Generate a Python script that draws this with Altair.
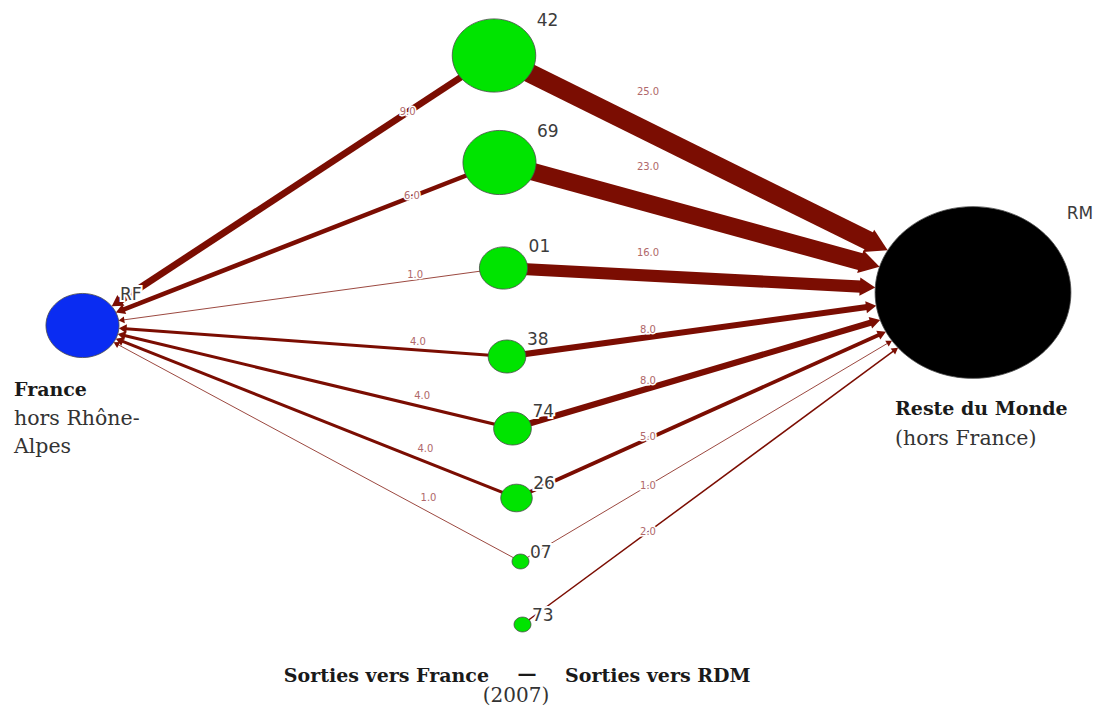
import math
import altair as alt
import pandas as pd

# ---------------- data ----------------
departements = ["42", "69", "01", "38", "74", "26", "07", "73"]
sorties_france = [9.0, 6.0, 1.0, 4.0, 4.0, 4.0, 1.0, 0.0]   # flows towards RF
sorties_rdm = [25.0, 23.0, 16.0, 8.0, 8.0, 5.0, 1.0, 2.0]    # flows towards RM
poles = ["RF", "RM"]

# ---------------- layout (node centres, in page pixels) ----------------
dept_x = [494, 499.5, 503.5, 507, 512.5, 516.5, 520.5, 522.5]
dept_y = [55.5, 162.5, 268, 356.5, 428.5, 498, 561.5, 624.5]
pole_x = [82.5, 973]
pole_y = [325.5, 292.5]

# style constants
EDGE_COL = "#7b0d02"
LAB_COL = "#b0686a"
R_K, R_OFF, ASPECT = 1.04, 6.15, 1.14      # node radius = R_K*(total+R_OFF)
SW_MAX = 19.0                               # stroke width for weight 25
ARR_K, ARR_OFF = 0.76, 7.9                  # arrow width = ARR_K*(w+ARR_OFF)
ARR_LEN = 0.85
PAGE_RIGHT = 1094

ELLIPSE = ("M-1,0C-1,-0.484,-0.552,-0.877,0,-0.877C0.552,-0.877,1,-0.484,1,0"
           "C1,0.484,0.552,0.877,0,0.877C-0.552,0.877,-1,0.484,-1,0Z")
ARROW = "M0,0L1,1.7L-1,1.7Z"

# ---------------- derived tables ----------------
totals = [f + r for f, r in zip(sorties_france, sorties_rdm)]
pole_tot = [sum(sorties_france), sum(sorties_rdm)]


def rads(v):
    rx = R_K * (v + R_OFF)
    return rx, rx / ASPECT


nodes = []
for code, x, y, v in zip(departements, dept_x, dept_y, totals):
    nodes.append(dict(code=code, x=x, y=y, total=v, kind="dept"))
for code, x, y, v in zip(poles, pole_x, pole_y, pole_tot):
    nodes.append(dict(code=code, x=x, y=y, total=v, kind=code))
for n in nodes:
    rx, ry = rads(n["total"])
    n["rx"], n["ry"] = rx, ry
    # keep label inside the page (approx. label width 0.8 em * chars)
    n["lx"] = min(n["x"] + rx + 1, PAGE_RIGHT - 0.8 * 17 * len(n["code"]))
    n["ly"] = n["y"] - 0.9 * ry + 3.5
nodes_df = pd.DataFrame(nodes)

pole_geo = {}
for code, x, y, v in zip(poles, pole_x, pole_y, pole_tot):
    pole_geo[code] = (x, y) + rads(v)

edges = []
for i, code in enumerate(departements):
    sx, sy = dept_x[i], dept_y[i]
    for tgt, w in (("RF", sorties_france[i]), ("RM", sorties_rdm[i])):
        if w <= 0:
            continue
        tx, ty, trx, try_ = pole_geo[tgt]
        ux, uy = sx - tx, sy - ty
        t = 1.0 / math.sqrt((ux / trx) ** 2 + (uy / try_) ** 2)
        tipx, tipy = tx + t * ux, ty + t * uy
        d = math.hypot(ux, uy)
        dx, dy = -ux / d, -uy / d
        aw = ARR_K * (w + ARR_OFF)
        back = ARR_LEN * aw - 1
        ex, ey = tipx - dx * back, tipy - dy * back
        ang = math.degrees(math.atan2(dx, -dy)) % 360
        if tgt == "RF":
            fx = 0.21
            lx = sx + fx * (tx - sx)
            ly = sy + fx * (ty - sy)
            slope = (sy - ty) / (sx - tx)
            ly -= min(14, max(0, 7 + 15 * slope))
        else:
            lx = 648
            ly = sy + (lx - sx) * (ty - sy) / (tx - sx)
            ly -= max(0, 1.9 * (w - 4))
        edges.append(dict(src=code, tgt=tgt, w=w, sx=sx, sy=sy, ex=ex, ey=ey,
                          tipx=tipx, tipy=tipy, ang=ang, aw=w + ARR_OFF,
                          lx=lx, ly=ly, lab=f"{w:.1f}"))
edges_df = pd.DataFrame(edges)

# ---------------- scales ----------------
W_PX, H_PX = 1087, 699
xs = alt.Scale(domain=[8, 8 + W_PX], nice=False, zero=False)
ys = alt.Scale(domain=[8, 8 + H_PX], nice=False, zero=False, reverse=True)


def X(f):
    return alt.X(f, type="quantitative", scale=xs, axis=None)


def Y(f):
    return alt.Y(f, type="quantitative", scale=ys, axis=None)


# ---------------- layers ----------------
rules = alt.Chart(edges_df).mark_rule(color=EDGE_COL, strokeCap="butt").encode(
    x=X("sx"), y=Y("sy"), x2=alt.X2("ex"), y2=alt.Y2("ey"),
    strokeWidth=alt.StrokeWidth("w:Q", scale=alt.Scale(domain=[0, 25], range=[0, SW_MAX]),
                                legend=None),
)

node_max = max(pole_tot) + R_OFF
node_marks = alt.Chart(nodes_df).transform_calculate(
    sv=f"datum.total + {R_OFF}"
).mark_point(shape=ELLIPSE, filled=True, opacity=1, stroke="#4a4a4a",
             strokeWidth=0.8).encode(
    x=X("x"), y=Y("y"),
    size=alt.Size("sv:Q", scale=alt.Scale(type="pow", exponent=2, domain=[0, node_max],
                                          range=[0, 4 * (R_K * node_max) ** 2]),
                  legend=None),
    color=alt.Color("kind:N", scale=alt.Scale(domain=["dept", "RF", "RM"],
                                              range=["#00e400", "#0a2cf2", "#000000"]),
                    legend=None),
)

arr_max = 25 + ARR_OFF
arrows = alt.Chart(edges_df).mark_point(shape=ARROW, filled=True, opacity=1,
                                        color=EDGE_COL).encode(
    x=X("tipx"), y=Y("tipy"),
    angle=alt.Angle("ang:Q", scale=None),
    size=alt.Size("aw:Q", scale=alt.Scale(type="pow", exponent=2, domain=[0, arr_max],
                                          range=[0, (ARR_K * arr_max) ** 2]),
                  legend=None),
)

halo = alt.Chart(edges_df).mark_text(font="DejaVu Sans", fontSize=10, color="white",
                                     stroke="white", strokeWidth=3,
                                     baseline="middle", align="center").encode(
    x=X("lx"), y=Y("ly"), text="lab:N")
edge_labels = alt.Chart(edges_df).mark_text(font="DejaVu Sans", fontSize=10, color=LAB_COL,
                                            baseline="middle", align="center").encode(
    x=X("lx"), y=Y("ly"), text="lab:N")

node_halo = alt.Chart(nodes_df).mark_text(font="DejaVu Sans", fontSize=17,
                                          color="white", stroke="white", strokeWidth=4,
                                          align="left", baseline="alphabetic").encode(
    x=X("lx"), y=Y("ly"), text="code:N")
node_labels = alt.Chart(nodes_df).mark_text(font="DejaVu Sans", fontSize=17,
                                            color="#3c3c3c", align="left",
                                            baseline="alphabetic").encode(
    x=X("lx"), y=Y("ly"), text="code:N")

# annotations
ann_bold = pd.DataFrame({
    "t": ["France", "Reste du Monde"],
    "x": [14, 895], "y": [396, 415],
})
ann_reg = pd.DataFrame({
    "t": ["hors Rhône-", "Alpes", "(hors France)"],
    "x": [14, 14, 895], "y": [425, 453, 445],
})
bottom_l = pd.DataFrame({"t": ["Sorties vers France"], "x": [489], "y": [682]})
bottom_c = pd.DataFrame({"t": ["—"], "x": [527], "y": [680]})
bottom_r = pd.DataFrame({"t": ["Sorties vers RDM"], "x": [565], "y": [682]})
year = pd.DataFrame({"t": ["(2007)"], "x": [516], "y": [702]})

SERIF = "DejaVu Serif"
t_bold = alt.Chart(ann_bold).mark_text(font=SERIF, fontSize=19, fontWeight="bold",
                                       color="#1a1a1a", align="left",
                                       baseline="alphabetic").encode(
    x=X("x"), y=Y("y"), text="t:N")
t_reg = alt.Chart(ann_reg).mark_text(font=SERIF, fontSize=20.5, color="#333333",
                                     align="left", baseline="alphabetic").encode(
    x=X("x"), y=Y("y"), text="t:N")
t_bl = alt.Chart(bottom_l).mark_text(font=SERIF, fontSize=19, fontWeight="bold",
                                     color="#1a1a1a", align="right",
                                     baseline="alphabetic").encode(
    x=X("x"), y=Y("y"), text="t:N")
t_bc = alt.Chart(bottom_c).mark_text(font=SERIF, fontSize=19, fontWeight="bold",
                                     color="#1a1a1a", align="center",
                                     baseline="alphabetic").encode(
    x=X("x"), y=Y("y"), text="t:N")
t_br = alt.Chart(bottom_r).mark_text(font=SERIF, fontSize=19, fontWeight="bold",
                                     color="#1a1a1a", align="left",
                                     baseline="alphabetic").encode(
    x=X("x"), y=Y("y"), text="t:N")
t_year = alt.Chart(year).mark_text(font=SERIF, fontSize=20, color="#333333",
                                   align="center", baseline="alphabetic").encode(
    x=X("x"), y=Y("y"), text="t:N")

chart = alt.layer(
    rules, node_marks, arrows, halo, edge_labels, node_halo, node_labels,
    t_bold, t_reg, t_bl, t_bc, t_br, t_year,
).resolve_scale(
    size="independent", strokeWidth="independent"
).properties(
    width=W_PX, height=H_PX, padding=0,
    autosize=alt.AutoSizeParams(type="none"),
    background="white",
).configure_view(stroke=None)

chart.save("out.html", embed_options={"renderer": "svg", "actions": False})
